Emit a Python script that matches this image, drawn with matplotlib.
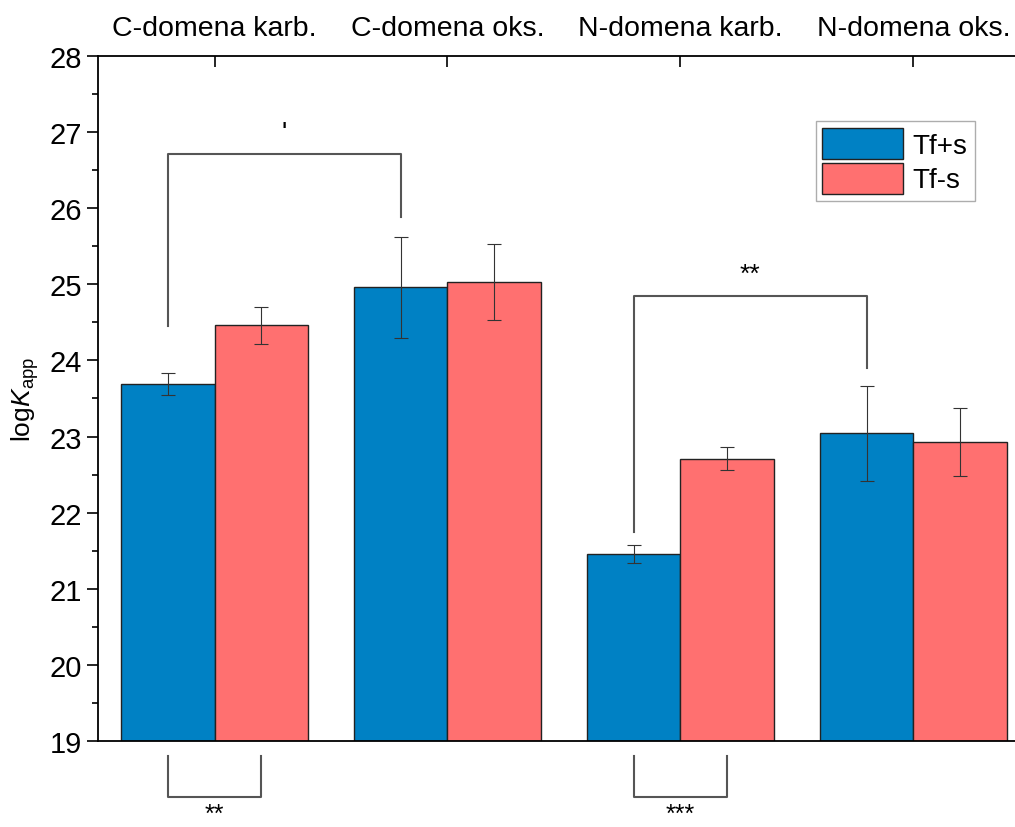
import numpy as np
import matplotlib.pyplot as plt
from matplotlib.ticker import MultipleLocator

plt.rcParams['font.family'] = ['Liberation Sans', 'DejaVu Sans']
plt.rcParams['mathtext.fontset'] = 'custom'
plt.rcParams['mathtext.rm'] = 'Liberation Sans'
plt.rcParams['mathtext.it'] = 'Liberation Sans:italic'

categories = ['C-domena karb.', 'C-domena oks.', 'N-domena karb.', 'N-domena oks.']
tf_plus = [23.69, 24.96, 21.46, 23.04]
tf_plus_err = [0.15, 0.66, 0.12, 0.62]
tf_minus = [24.46, 25.03, 22.71, 22.93]
tf_minus_err = [0.24, 0.50, 0.15, 0.45]

blue = '#0081C4'
pink = '#FF7070'

fig = plt.figure(figsize=(10.15, 8.28), dpi=100)
ax = fig.add_axes([0.0966, 0.1039, 0.918, 0.8273])

x = np.arange(len(categories))
w = 0.4
ekw = dict(ecolor='#333333', elinewidth=0.8, capsize=5, capthick=0.8)
ax.bar(x - w / 2, tf_plus, w, color=blue, edgecolor='#222222', linewidth=1,
       yerr=tf_plus_err, error_kw=ekw, label='Tf+s')
ax.bar(x + w / 2, tf_minus, w, color=pink, edgecolor='#222222', linewidth=1,
       yerr=tf_minus_err, error_kw=ekw, label='Tf-s')

ax.set_xlim(-0.5, 3.5)
ax.set_ylim(19, 28)
ax.yaxis.set_major_locator(MultipleLocator(1))
ax.yaxis.set_minor_locator(MultipleLocator(0.5))
ax.tick_params(axis='y', which='major', direction='out', length=8, width=1.2, labelsize=21)
ax.tick_params(axis='y', which='minor', direction='out', length=4, width=1.2)

ax.xaxis.tick_top()
ax.set_xticks(x)
ax.set_xticklabels(categories, fontsize=20.5)
ax.tick_params(axis='x', which='major', direction='in', length=8, width=1.2, pad=11)
ax.spines['right'].set_visible(False)
for s in ['left', 'top', 'bottom']:
    ax.spines[s].set_linewidth(1.3)

ax.set_ylabel('log$\\it{K}$$_{\\rm app}$', fontsize=19, labelpad=6)

# significance brackets
lc = '#555555'
lw = 1.5
# C-domena karb. Tf+s vs C-domena oks. Tf+s
ax.plot([-0.2, -0.2, 0.8, 0.8], [24.45, 26.71, 26.71, 25.88], color=lc, lw=lw)
ax.text(0.3, 26.82, "'", ha='center', va='bottom', fontsize=20)
# N-domena karb. Tf+s vs N-domena oks. Tf+s
ax.plot([1.8, 1.8, 2.8, 2.8], [21.75, 24.85, 24.85, 23.9], color=lc, lw=lw)
ax.text(2.3, 24.98, '**', ha='center', va='bottom', fontsize=19)
# below the axis
ax.plot([-0.2, -0.2, 0.2, 0.2], [18.8, 18.26, 18.26, 18.8], color=lc, lw=lw, clip_on=False)
ax.text(0.0, 18.2, '**', ha='center', va='top', fontsize=18)
ax.plot([1.8, 1.8, 2.2, 2.2], [18.8, 18.26, 18.26, 18.8], color=lc, lw=lw, clip_on=False)
ax.text(2.0, 18.2, '***', ha='center', va='top', fontsize=18)

leg = ax.legend(loc='upper left', bbox_to_anchor=(0.77, 0.905), fontsize=20, frameon=True,
                fancybox=False, edgecolor='#999999', handlelength=2.9, handleheight=1.35,
                handletextpad=0.35, borderpad=0.25, labelspacing=0.12, borderaxespad=0)
leg.get_frame().set_linewidth(1)

plt.savefig('out.png', dpi=100)
